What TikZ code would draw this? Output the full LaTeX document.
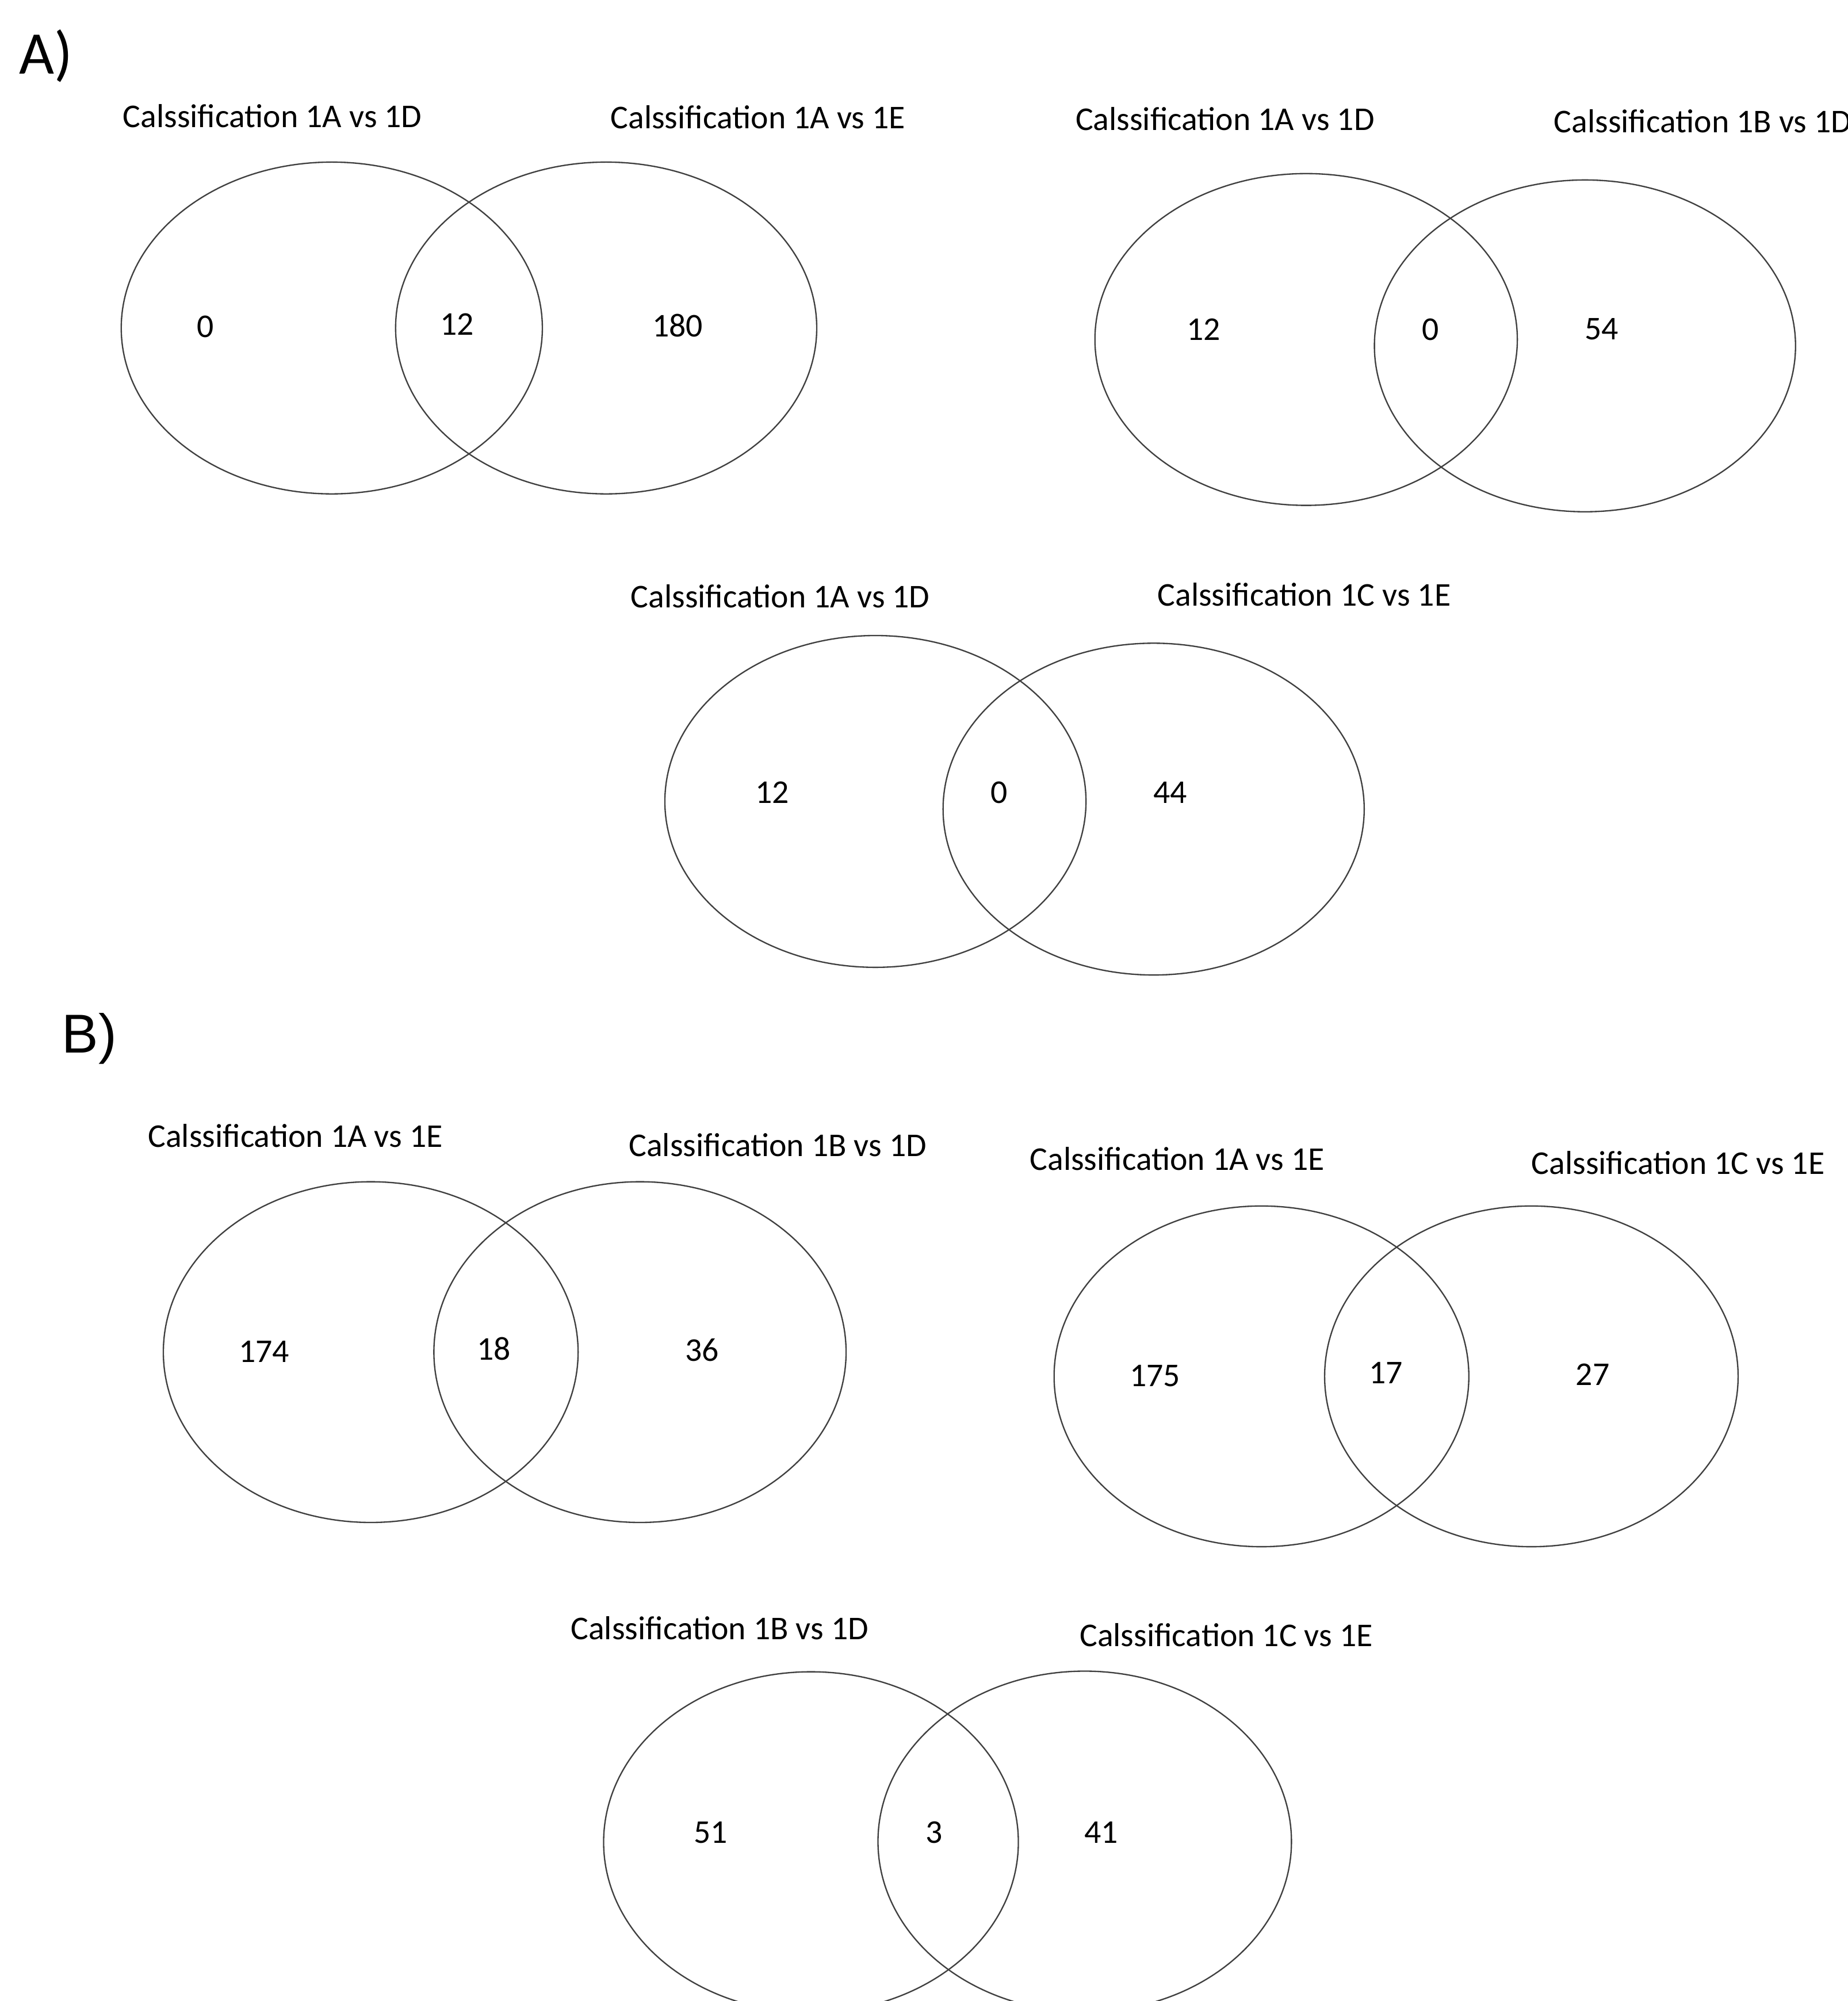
\documentclass[tikz,border=0pt]{standalone}
\usepackage{fontspec}
\setmainfont{Carlito}
\newfontfamily\arialfont{Liberation Sans}
\begin{document}
\begin{tikzpicture}[x=0.01cm,y=-0.01cm,
  venn/.style={draw=black!75,line width=0.3pt},
  lbl/.style={inner sep=0pt,font=\fontsize{7.4}{9}\selectfont},
  num/.style={inner sep=0pt,font=\fontsize{7.4}{9}\selectfont},
  panel/.style={inner sep=0pt}]
\clip (0,0) rectangle (1448,1568);
% panel letters
\node[panel,font=\fontsize{13.5}{16}\selectfont] (pA) at (36,44) {A)};
\node[panel,font=\arialfont\fontsize{12.2}{15}\selectfont] (pB) at (70,814) {B)};

% ---- A1
\coordinate (a1l) at (260,257);
\coordinate (a1r) at (475,257);
\draw[venn] (a1l) ellipse [x radius=165,y radius=130];
\draw[venn] (a1r) ellipse [x radius=165,y radius=130];
\node[lbl] (a1tl) at (213.5,91) {Calssification 1A vs 1D};
\node[lbl] (a1tr) at (594,92) {Calssification 1A vs 1E};
\node[num] (a1n1) at (161,256) {0};
\node[num] (a1n2) at (358,254) {12};
\node[num] (a1n3) at (531,255) {180};

% ---- A2
\coordinate (a2l) at (1023.5,266);
\coordinate (a2r) at (1242,271);
\draw[venn] (a2l) ellipse [x radius=165.5,y radius=130];
\draw[venn] (a2r) ellipse [x radius=165,y radius=130];
\node[lbl] (a2tl) at (960,93) {Calssification 1A vs 1D};
\node[lbl,anchor=west] (a2tr) at (1217,95) {Calssification 1B vs 1D};
\node[num] (a2n1) at (943,258) {12};
\node[num] (a2n2) at (1121,258) {0};
\node[num] (a2n3) at (1255,258) {54};

% ---- A3
\coordinate (a3l) at (686,628);
\coordinate (a3r) at (904,634);
\draw[venn] (a3l) ellipse [x radius=165,y radius=130];
\draw[venn] (a3r) ellipse [x radius=165,y radius=130];
\node[lbl] (a3tl) at (611.5,467) {Calssification 1A vs 1D};
\node[lbl] (a3tr) at (1022,466) {Calssification 1C vs 1E};
\node[num] (a3n1) at (605,621) {12};
\node[num] (a3n2) at (783,621) {0};
\node[num] (a3n3) at (917,621) {44};

% ---- B1
\coordinate (b1l) at (290.5,1059.5);
\coordinate (b1r) at (501.5,1059.5);
\draw[venn] (b1l) ellipse [x radius=162.5,y radius=133.5];
\draw[venn] (b1r) ellipse [x radius=161.5,y radius=133.5];
\node[lbl] (b1tl) at (231.5,890) {Calssification 1A vs 1E};
\node[lbl] (b1tr) at (609.5,897) {Calssification 1B vs 1D};
\node[num] (b1n1) at (207,1059) {174};
\node[num] (b1n2) at (387,1057) {18};
\node[num] (b1n3) at (550,1058) {36};

% ---- B2
\coordinate (b2l) at (988.5,1078.5);
\coordinate (b2r) at (1200,1078.5);
\draw[venn] (b2l) ellipse [x radius=162.5,y radius=133.5];
\draw[venn] (b2r) ellipse [x radius=162,y radius=133.5];
\node[lbl] (b2tl) at (922.5,908) {Calssification 1A vs 1E};
\node[lbl] (b2tr) at (1315,911) {Calssification 1C vs 1E};
\node[num] (b2n1) at (905,1078) {175};
\node[num] (b2n2) at (1086,1076) {17};
\node[num] (b2n3) at (1248,1077) {27};

% ---- B3
\coordinate (b3l) at (635.5,1443.5);
\coordinate (b3r) at (850,1443);
\draw[venn] (b3l) ellipse [x radius=162.5,y radius=133.5];
\draw[venn] (b3r) ellipse [x radius=162,y radius=133.5];
\node[lbl] (b3tl) at (564,1276) {Calssification 1B vs 1D};
\node[lbl] (b3tr) at (961,1281) {Calssification 1C vs 1E};
\node[num] (b3n1) at (557,1436) {51};
\node[num] (b3n2) at (732,1436) {3};
\node[num] (b3n3) at (863,1436) {41};
\end{tikzpicture}
\end{document}
